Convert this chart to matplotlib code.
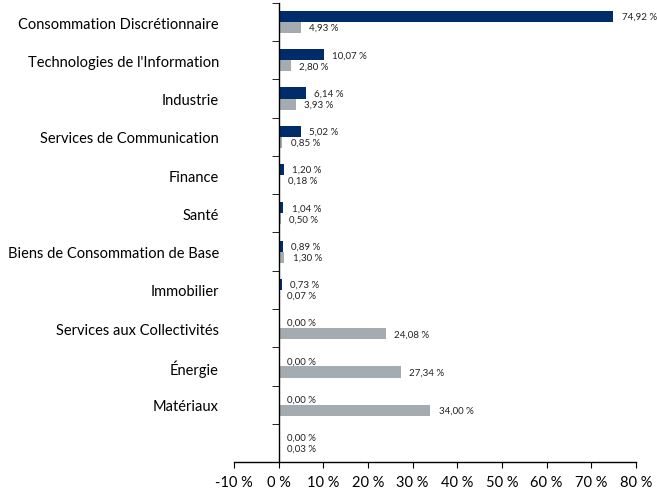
import matplotlib.pyplot as plt
import numpy as np

plt.rcParams['font.family'] = ['Lato', 'DejaVu Sans']

categories = ['Consommation Discrétionnaire', "Technologies de l'Information", 'Industrie',
              'Services de Communication', 'Finance', 'Santé', 'Biens de Consommation de Base',
              'Immobilier', 'Services aux Collectivités', 'Énergie', 'Matériaux', '']
fund = [74.92, 10.07, 6.14, 5.02, 1.20, 1.04, 0.89, 0.73, 0.00, 0.00, 0.00, 0.00]
index = [4.93, 2.80, 3.93, 0.85, 0.18, 0.50, 1.30, 0.07, 24.08, 27.34, 34.00, 0.03]
xticks = list(range(-10, 81, 10))

navy = '#002d6a'
grey = '#a5acb1'

fig = plt.figure(figsize=(6.57, 4.89), dpi=100)
ax = fig.add_axes([0.356, 0.053, 0.612, 0.939])

y = np.arange(len(categories))
h = 0.29
ax.barh(y - h / 2, fund, height=h, color=navy)
ax.barh(y + h / 2, index, height=h, color=grey)

def fmt(v):
    return f'{v:.2f} %'.replace('.', ',')

for yi, f, g in zip(y, fund, index):
    ax.annotate(fmt(f), (f, yi - h / 2), xytext=(6, 0), textcoords='offset points',
                va='center', ha='left', fontsize=7, color='#222222')
    ax.annotate(fmt(g), (g, yi + h / 2), xytext=(6, 0), textcoords='offset points',
                va='center', ha='left', fontsize=7, color='#222222')

ax.set_xlim(-10, 80)
ax.set_ylim(len(categories) - 0.5, -0.5)
ax.set_xticks(xticks)
ax.set_xticklabels([f'{t} %' for t in xticks])
ax.tick_params(axis='x', length=4, direction='out', pad=5, labelsize=10.5)

ax.set_yticks(y)
ax.set_yticklabels(categories)
ax.set_yticks(np.arange(len(categories) + 1) - 0.5, minor=True)
ax.tick_params(axis='y', which='major', length=0, pad=43, labelsize=10.5)
ax.tick_params(axis='y', which='minor', length=5, direction='out')

ax.spines['left'].set_position(('data', 0))
ax.spines['top'].set_visible(False)
ax.spines['right'].set_visible(False)
for s in ['left', 'bottom']:
    ax.spines[s].set_linewidth(1.0)

fig.savefig('out.png', dpi=100)
